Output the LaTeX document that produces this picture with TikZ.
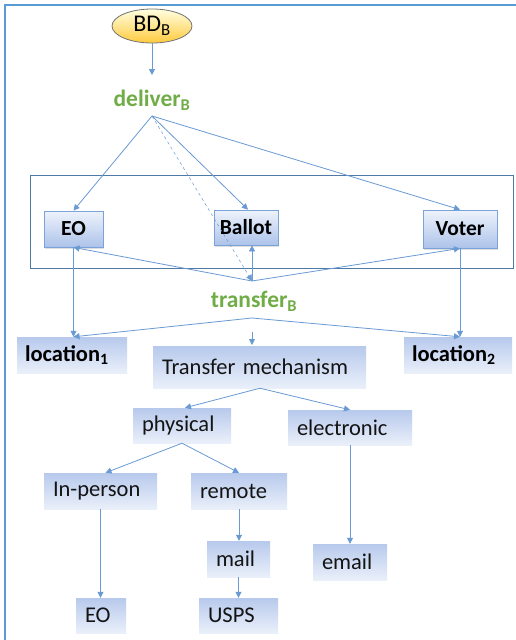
\documentclass[tikz,border=0pt]{standalone}
\usepackage{fontspec}
\setmainfont{Carlito}
\usetikzlibrary{shapes.geometric,arrows.meta,shadows}
\definecolor{frameblue}{HTML}{5B9BD5}
\definecolor{linkblue}{HTML}{6A9AD3}
\definecolor{grpline}{HTML}{4F7AA8}
\definecolor{vgreen}{HTML}{70AD47}
\definecolor{boxtop}{HTML}{B7C9EC}
\definecolor{boxbot}{HTML}{EAF0FA}
\definecolor{ebtop}{HTML}{EEF3FB}
\definecolor{ebbot}{HTML}{ADC3EA}
\definecolor{ebborder}{HTML}{7BA3DA}
\tikzset{
  link/.style={draw=linkblue, line width=0.8pt, -{Triangle[width=6pt,length=6pt]}},
  lbox/.style={top color=boxtop, bottom color=boxbot, draw=none, inner xsep=9pt, inner ysep=0pt,
    align=left, font=\fontsize{22.5}{24}\selectfont, text=black!92},
  ebox/.style={top color=ebtop, bottom color=ebbot, draw=ebborder, line width=0.8pt,
    font=\fontsize{21.5}{23}\selectfont\bfseries, text=black, inner sep=0pt,
    drop shadow={shadow xshift=1pt, shadow yshift=-1.5pt, opacity=0.25}},
  bbox/.style={top color=boxtop, bottom color=boxbot, draw=none, inner xsep=8pt, inner ysep=0pt,
    align=left, font=\fontsize{22.5}{24}\selectfont\bfseries, text=black},
  glabel/.style={text=vgreen, font=\fontsize{23.5}{25}\selectfont\bfseries, inner sep=1pt},
}
\begin{document}
\begin{tikzpicture}[x=1pt,y=-1pt]
\useasboundingbox (0,0) rectangle (515,640);
\fill[white] (0,0) rectangle (515,640);
\draw[frameblue, line width=2pt] (5,650) -- (5,5) -- (525,5);

% group rectangle
\draw[grpline, line width=0.9pt] (30,175) rectangle (513,268);

% top ellipse
\node[ellipse, draw=black!55, line width=0.8pt, top color=yellow!12, bottom color=orange!55!yellow!75,
  minimum width=80pt, minimum height=34pt, inner sep=0pt, font=\fontsize{24}{26}\selectfont] (bd) at (152,26) {BD\textsubscript{B}};

\node[glabel] (deliver) at (152,100) {deliver\textsubscript{B}};
\coordinate (dp) at (152,116);
\node[glabel] (transfer) at (254,301) {transfer\textsubscript{B}};
\coordinate (tp) at (252,281);
\coordinate (tq) at (252,318);

% entity boxes
\node[ebox, minimum width=59pt, minimum height=36pt] (eo) at (73.5,229) {EO};
\node[ebox, minimum width=64pt, minimum height=35pt] (ballot) at (246,227.5) {Ballot};
\node[ebox, minimum width=74pt, minimum height=38pt] (voter) at (460,229) {Voter};

% location boxes
\node[bbox, minimum width=110pt, minimum height=36pt, text width=94pt] (loc1) at (72,355) {location\textsubscript{1}};
\node[bbox, minimum width=108pt, minimum height=36pt, text width=92pt] (loc2) at (458,355) {location\textsubscript{2}};

% lower tree
\node[lbox, minimum width=213pt, minimum height=42pt, text width=195pt] (tm) at (259.5,367) {Transfer mechanism};
\node[lbox, minimum width=98pt, minimum height=35pt, text width=80pt] (phys) at (182,425.5) {physical};
\node[lbox, minimum width=124pt, minimum height=35pt, text width=106pt] (elec) at (350,427.5) {electronic};
\node[lbox, minimum width=113pt, minimum height=36pt, text width=95pt] (inp) at (100.5,491) {In-person};
\node[lbox, minimum width=96pt, minimum height=36pt, text width=78pt] (rem) at (239,491) {remote};
\node[lbox, minimum width=63pt, minimum height=36pt, text width=45pt] (mail) at (238.5,559) {mail};
\node[lbox, minimum width=74pt, minimum height=36pt, text width=56pt] (email) at (350,562) {email};
\node[lbox, minimum width=50pt, minimum height=35pt, text width=32pt] (eo2) at (101,615.5) {EO};
\node[lbox, minimum width=79pt, minimum height=35pt, text width=61pt] (usps) at (238.5,615.5) {USPS};

% connectors
\draw[link] (bd.south) -- (152,75);
\draw[link] (dp) -- (eo.north);
\draw[link] (dp) -- ([xshift=2pt]ballot.north);
\draw[link] (dp) -- (voter.north);
\draw[link, dashed, line width=0.5pt] (dp) -- (tp);

\draw[link] (tp) -- (eo.south);
\draw[link] (tp) -- ([xshift=6pt]ballot.south);
\draw[link] (tp) -- (voter.south);

\draw[link] (eo.south) -- (eo.south |- loc1.north);
\draw[link] (voter.south) -- (voter.south |- loc2.north);
\draw[link] (tq) -- (eo.south |- loc1.north);
\draw[link] (tq) -- (voter.south |- loc2.north);
\draw[link] (252,332) -- (252,345);

\draw[link] ([xshift=0.5pt]tm.south) -- ([xshift=3pt]phys.north);
\draw[link] ([xshift=0.5pt]tm.south) -- (elec.north);
\draw[link] (phys.south) -- ([xshift=5pt]inp.north);
\draw[link] (phys.south) -- (rem.north);
\draw[link] (inp.south) -- (inp.south |- eo2.north);
\draw[link] (rem.south) -- (rem.south |- mail.north);
\draw[link] (mail.south) -- (mail.south |- usps.north);
\draw[link] (elec.south) -- (email.north);
\end{tikzpicture}
\end{document}
